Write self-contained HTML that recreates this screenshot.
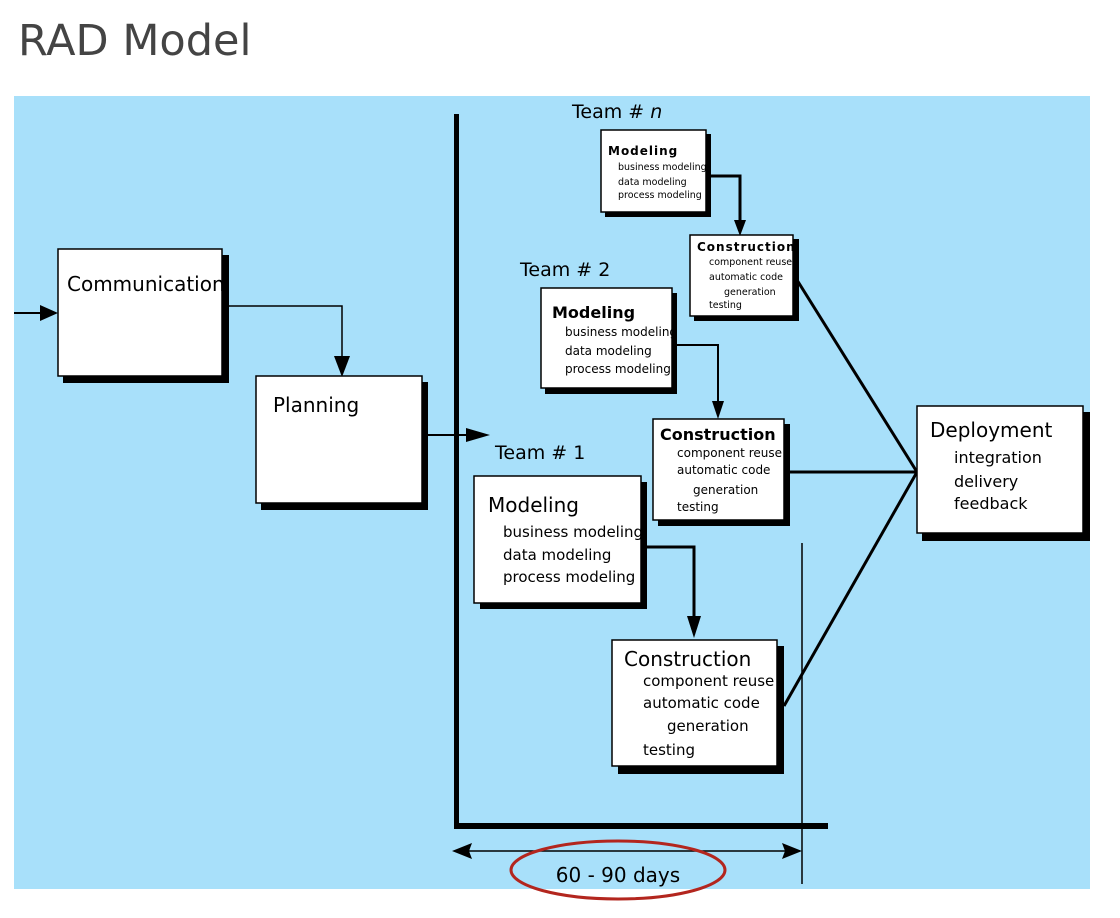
<!DOCTYPE html>
<html><head><meta charset="utf-8"><style>
html,body{margin:0;padding:0;background:#fff;width:1120px;height:918px;overflow:hidden}
svg{display:block}
text{font-family:"DejaVu Sans","Liberation Sans",sans-serif;fill:#000}
</style></head><body>
<svg width="1120" height="918" viewBox="0 0 1120 918" xmlns="http://www.w3.org/2000/svg">
<defs>
<marker id="ah" markerWidth="10" markerHeight="10" refX="9" refY="5" orient="auto" markerUnits="userSpaceOnUse"><path d="M0,0 L10,5 L0,10 z" fill="#000"/></marker>
</defs>
<text x="18" y="55" font-size="43" style="fill:#444;font-family:'DejaVu Sans','Liberation Sans',sans-serif">RAD Model</text>
<rect x="14" y="96" width="1076" height="793" fill="#a8e0fa"/>

<!-- left arrow into comm -->
<line x1="14" y1="313" x2="56" y2="313" stroke="#000" stroke-width="2"/>
<path d="M40,305 L58,313 L40,321 z"/>
<!-- Communication -->
<rect x="63" y="255" width="166" height="128" fill="#000"/>
<rect x="58" y="249" width="164" height="127" fill="#fff" stroke="#000" stroke-width="1.5"/>
<text x="67" y="291" font-size="20">Communication</text>
<polyline points="229,306 342,306 342,365" fill="none" stroke="#000" stroke-width="1.5"/>
<path d="M334,356 L342,377 L350,356 z"/>
<!-- Planning -->
<rect x="261" y="382" width="167" height="128" fill="#000"/>
<rect x="256" y="376" width="166" height="127" fill="#fff" stroke="#000" stroke-width="1.5"/>
<text x="273" y="412" font-size="20">Planning</text>
<line x1="428" y1="435" x2="478" y2="435" stroke="#000" stroke-width="2"/>
<path d="M466,428 L490,435 L466,442 z"/>

<!-- axes -->
<rect x="454" y="114" width="5" height="714" fill="#000"/>
<rect x="454" y="823" width="374" height="6" fill="#000"/>
<line x1="802" y1="543" x2="802" y2="884" stroke="#000" stroke-width="1.5"/>
<line x1="455" y1="851" x2="800" y2="851" stroke="#000" stroke-width="1.5"/>
<path d="M452,851 L472,843 L469,851 L472,859 z"/>
<path d="M802,851 L782,843 L785,851 L782,859 z"/>
<ellipse cx="618" cy="870" rx="107" ry="29" fill="none" stroke="#b3261e" stroke-width="3"/>
<text x="618" y="882" font-size="20" text-anchor="middle">60 - 90 days</text>

<!-- connectors to deployment -->
<g stroke="#000" stroke-width="3" fill="none">
<line x1="797" y1="280" x2="917" y2="472"/>
<line x1="790" y1="472" x2="917" y2="472"/>
<line x1="784" y1="706" x2="917" y2="472"/>
</g>

<!-- Team n -->
<text x="572" y="118" font-size="19">Team # <tspan font-style="italic">n</tspan></text>
<rect x="605" y="134" width="106" height="83" fill="#000"/>
<rect x="601" y="130" width="105" height="82" fill="#fff" stroke="#000" stroke-width="1.5"/>
<text x="608" y="155" font-size="12" font-weight="bold" letter-spacing="1">Modeling</text>
<text font-size="9.5"><tspan x="618" y="170">business modeling</tspan><tspan x="618" y="185">data modeling</tspan><tspan x="618" y="198">process modeling</tspan></text>
<polyline points="706,176 740,176 740,226" fill="none" stroke="#000" stroke-width="3"/>
<path d="M734,220 L740,236 L746,220 z"/>
<rect x="694" y="239" width="105" height="82" fill="#000"/>
<rect x="690" y="235" width="103" height="81" fill="#fff" stroke="#000" stroke-width="1.5"/>
<text x="697" y="251" font-size="12" font-weight="bold" letter-spacing="1">Construction</text>
<text font-size="9.5"><tspan x="709" y="265">component reuse</tspan><tspan x="709" y="280">automatic code</tspan><tspan x="724" y="295">generation</tspan><tspan x="709" y="308">testing</tspan></text>

<!-- Team 2 -->
<text x="520" y="276" font-size="19">Team # 2</text>
<rect x="545" y="293" width="132" height="101" fill="#000"/>
<rect x="541" y="288" width="131" height="100" fill="#fff" stroke="#000" stroke-width="1.5"/>
<text x="552" y="318" font-size="16" font-weight="bold">Modeling</text>
<text font-size="12"><tspan x="565" y="336">business modeling</tspan><tspan x="565" y="355">data modeling</tspan><tspan x="565" y="373">process modeling</tspan></text>
<polyline points="677,345 718,345 718,406" fill="none" stroke="#000" stroke-width="2"/>
<path d="M712,401 L718,419 L724,401 z"/>
<rect x="658" y="424" width="132" height="102" fill="#000"/>
<rect x="653" y="419" width="131" height="101" fill="#fff" stroke="#000" stroke-width="1.5"/>
<text x="660" y="440" font-size="16" font-weight="bold">Construction</text>
<text font-size="12"><tspan x="677" y="457">component reuse</tspan><tspan x="677" y="474">automatic code</tspan><tspan x="693" y="494">generation</tspan><tspan x="677" y="511">testing</tspan></text>

<!-- Team 1 -->
<text x="495" y="459" font-size="19">Team # 1</text>
<rect x="480" y="482" width="167" height="127" fill="#000"/>
<rect x="474" y="476" width="167" height="127" fill="#fff" stroke="#000" stroke-width="1.5"/>
<text x="488" y="512" font-size="20">Modeling</text>
<text font-size="15"><tspan x="503" y="537">business modeling</tspan><tspan x="503" y="560">data modeling</tspan><tspan x="503" y="582">process modeling</tspan></text>
<polyline points="641,547 694,547 694,622" fill="none" stroke="#000" stroke-width="3"/>
<path d="M687,616 L694,638 L701,616 z"/>
<rect x="618" y="646" width="166" height="128" fill="#000"/>
<rect x="612" y="640" width="165" height="126" fill="#fff" stroke="#000" stroke-width="1.5"/>
<text x="624" y="666" font-size="20">Construction</text>
<text font-size="15"><tspan x="643" y="686">component reuse</tspan><tspan x="643" y="708">automatic code</tspan><tspan x="667" y="731">generation</tspan><tspan x="643" y="755">testing</tspan></text>

<!-- Deployment -->
<rect x="922" y="412" width="168" height="129" fill="#000"/>
<rect x="917" y="406" width="166" height="127" fill="#fff" stroke="#000" stroke-width="1.5"/>
<text x="930" y="437" font-size="20">Deployment</text>
<text font-size="16"><tspan x="954" y="463">integration</tspan><tspan x="954" y="487">delivery</tspan><tspan x="954" y="509">feedback</tspan></text>
</svg>
</body></html>
